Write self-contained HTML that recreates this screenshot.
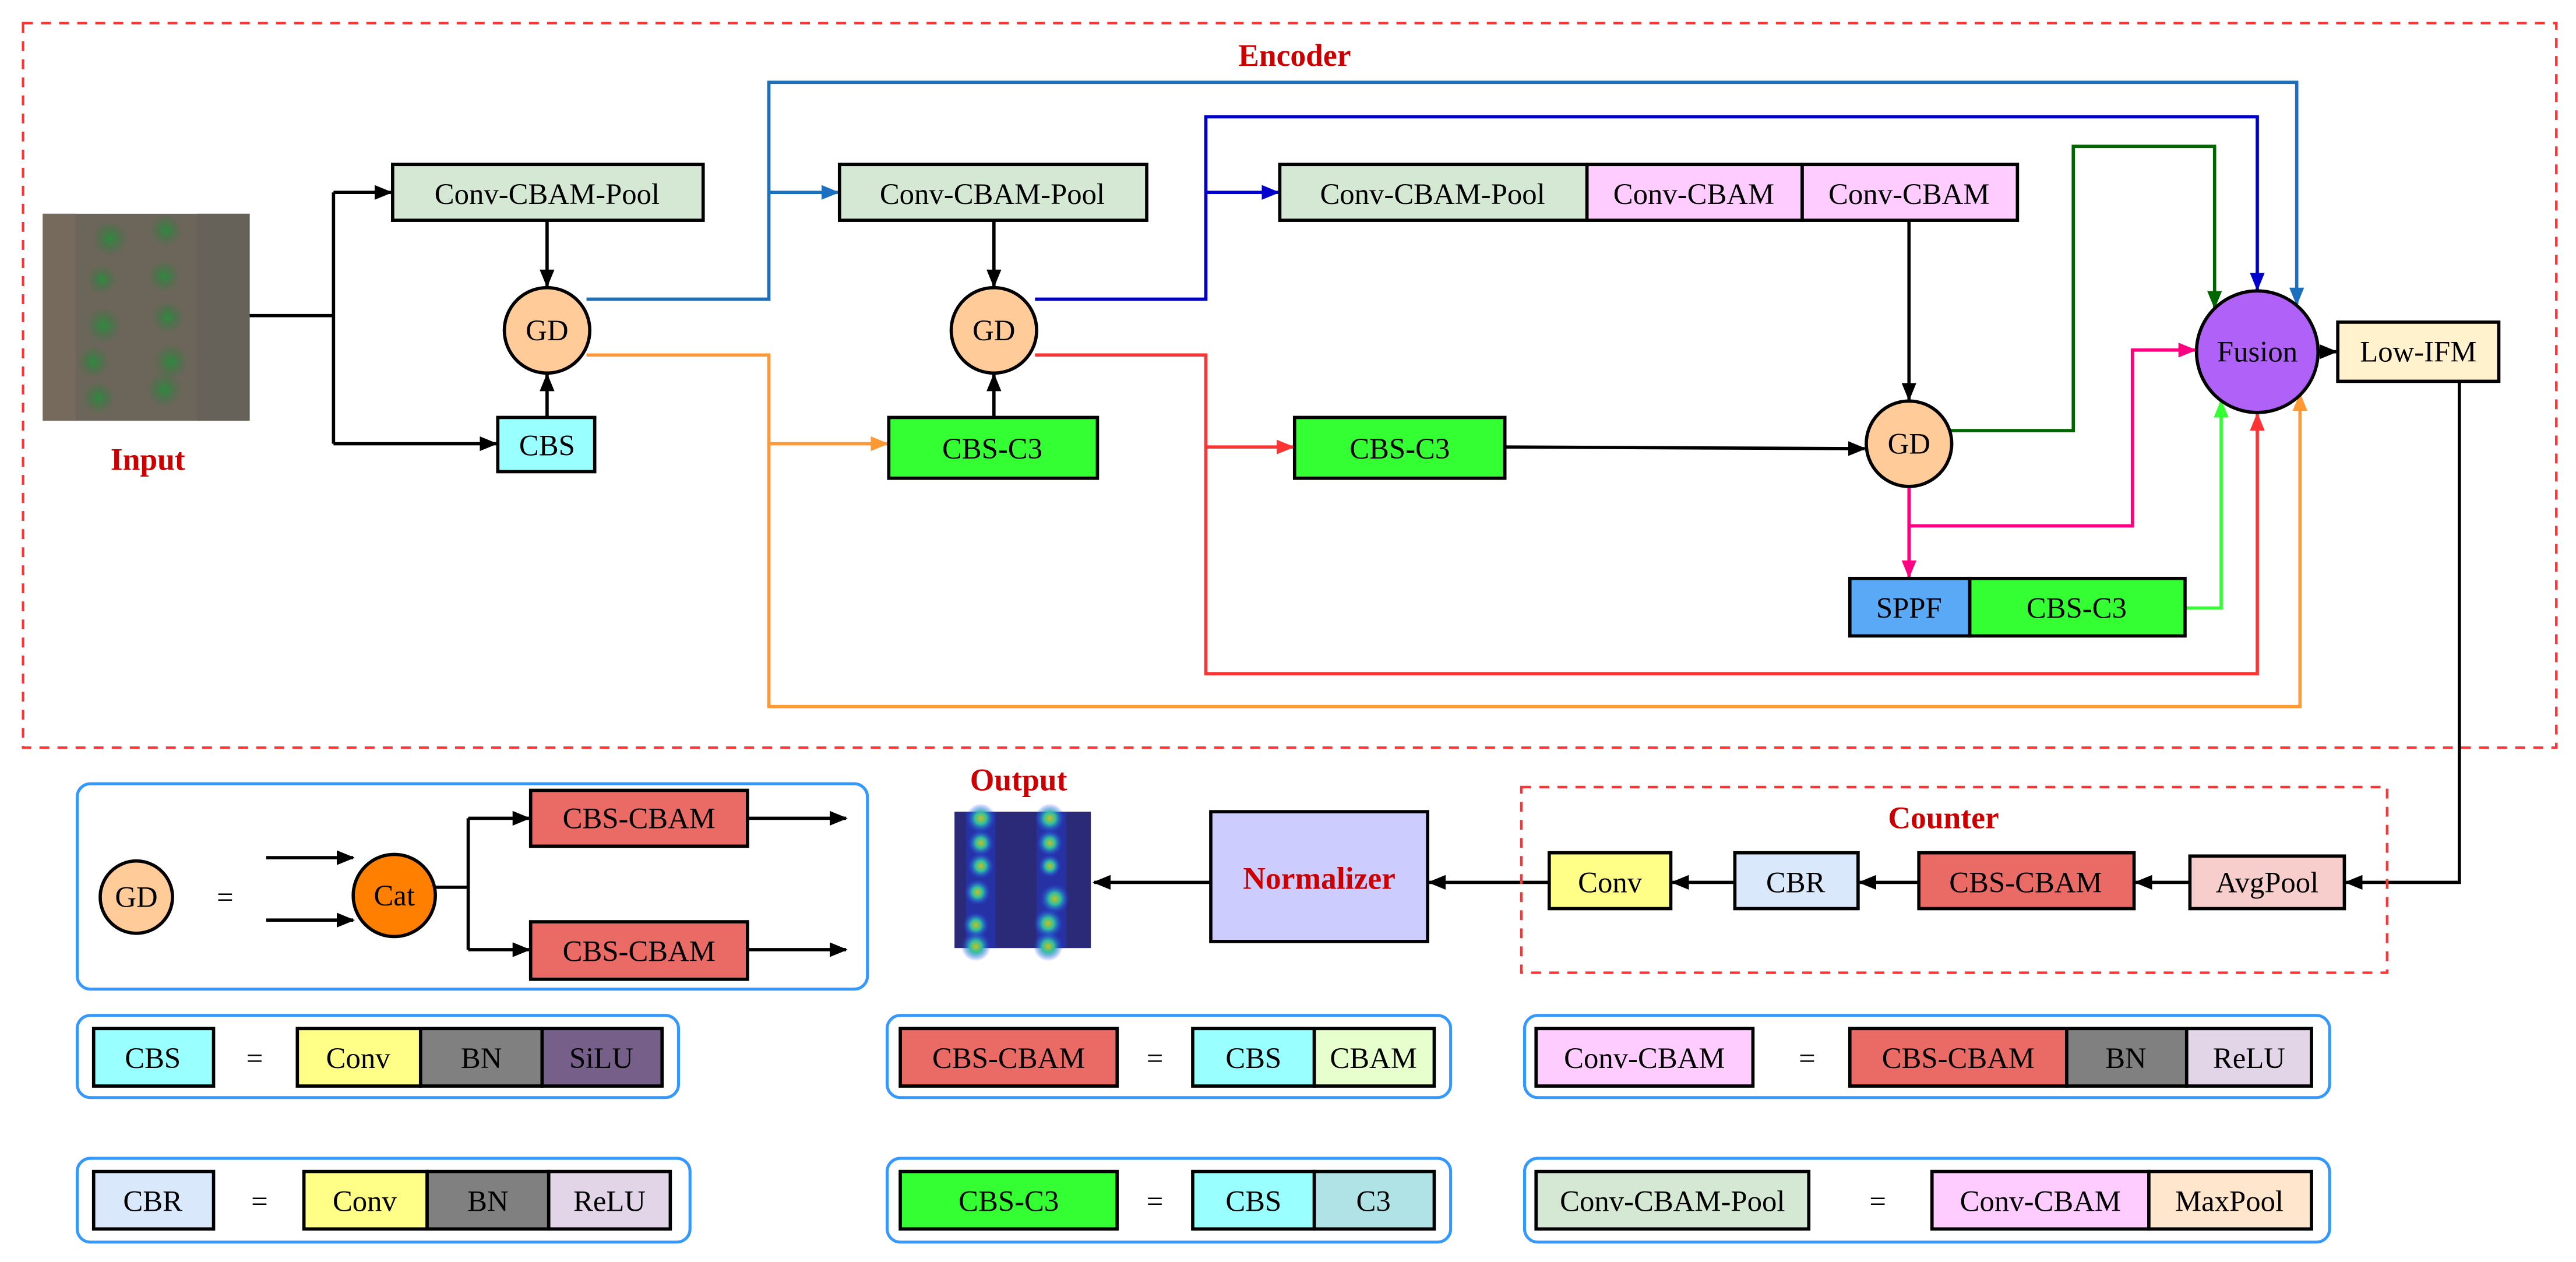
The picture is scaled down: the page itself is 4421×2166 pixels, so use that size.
<!DOCTYPE html>
<html><head><meta charset="utf-8"><style>
html,body{margin:0;padding:0;background:#fff;}
svg{display:block;}
</style></head><body>
<svg width="4421" height="2166" viewBox="0 0 1568 768" xmlns="http://www.w3.org/2000/svg" font-family="'Liberation Serif', 'Times New Roman', serif" font-size="18">
<defs>
<marker id="k" markerWidth="11" markerHeight="9" refX="10" refY="4.5" orient="auto" markerUnits="userSpaceOnUse"><path d="M0,0 L11,4.5 L0,9 Z" fill="#000"/></marker>
<marker id="b" markerWidth="11" markerHeight="9" refX="10" refY="4.5" orient="auto" markerUnits="userSpaceOnUse"><path d="M0,0 L11,4.5 L0,9 Z" fill="#1a6fbf"/></marker>
<marker id="db" markerWidth="11" markerHeight="9" refX="10" refY="4.5" orient="auto" markerUnits="userSpaceOnUse"><path d="M0,0 L11,4.5 L0,9 Z" fill="#0000cc"/></marker>
<marker id="o" markerWidth="11" markerHeight="9" refX="10" refY="4.5" orient="auto" markerUnits="userSpaceOnUse"><path d="M0,0 L11,4.5 L0,9 Z" fill="#ff9933"/></marker>
<marker id="r" markerWidth="11" markerHeight="9" refX="10" refY="4.5" orient="auto" markerUnits="userSpaceOnUse"><path d="M0,0 L11,4.5 L0,9 Z" fill="#ff3333"/></marker>
<marker id="g" markerWidth="11" markerHeight="9" refX="10" refY="4.5" orient="auto" markerUnits="userSpaceOnUse"><path d="M0,0 L11,4.5 L0,9 Z" fill="#006600"/></marker>
<marker id="p" markerWidth="11" markerHeight="9" refX="10" refY="4.5" orient="auto" markerUnits="userSpaceOnUse"><path d="M0,0 L11,4.5 L0,9 Z" fill="#ff0080"/></marker>
<marker id="lg" markerWidth="11" markerHeight="9" refX="10" refY="4.5" orient="auto" markerUnits="userSpaceOnUse"><path d="M0,0 L11,4.5 L0,9 Z" fill="#33ff33"/></marker>
<radialGradient id="dot"><stop offset="0" stop-color="#c8c020"/><stop offset="0.4" stop-color="#30c0a0"/><stop offset="1" stop-color="#2040ff" stop-opacity="0"/></radialGradient>
<radialGradient id="pl"><stop offset="0" stop-color="#2f8a40"/><stop offset="1" stop-color="#3a7040" stop-opacity="0"/></radialGradient>
</defs>

<rect x="14" y="14" width="1542" height="441" fill="none" stroke="#ff3333" stroke-width="1.5" stroke-dasharray="6,5"/>
<text x="788" y="40" text-anchor="middle" font-weight="bold" fill="#cc0000" font-size="19">Encoder</text>

<rect x="26" y="130" width="126" height="126" fill="#6c665a"/>
<rect x="26" y="130" width="20" height="126" fill="#756a5c"/>
<rect x="120" y="130" width="32" height="126" fill="#66625a"/>
<g fill="url(#pl)">
<circle cx="67" cy="145" r="11"/><circle cx="63" cy="198" r="11"/><circle cx="62" cy="170" r="9"/><circle cx="57" cy="220" r="10"/><circle cx="60" cy="242" r="10"/>
<circle cx="101" cy="140" r="10"/><circle cx="100" cy="168" r="10"/><circle cx="102" cy="193" r="10"/><circle cx="104" cy="220" r="11"/><circle cx="100" cy="237" r="11"/>
</g>
<text x="90" y="286" text-anchor="middle" font-weight="bold" fill="#cc0000" font-size="19">Input</text>

<g stroke-width="2" fill="none">
<path d="M152,192 H203 M203,117 V270" stroke="#000"/>
<path d="M203,117 H238" stroke="#000" marker-end="url(#k)"/>
<path d="M203,270 H302" stroke="#000" marker-end="url(#k)"/>
<path d="M333,134 V174" stroke="#000" marker-end="url(#k)"/>
<path d="M333,254 V228" stroke="#000" marker-end="url(#k)"/>
<path d="M357,182 H468 V50 H1398 V185" stroke="#1a6fbf" marker-end="url(#b)"/>
<path d="M468,117 H510" stroke="#1a6fbf" marker-end="url(#b)"/>
<path d="M357,216 H468 V430 H1400 V240" stroke="#ff9933" marker-end="url(#o)"/>
<path d="M468,270 H540" stroke="#ff9933" marker-end="url(#o)"/>
<path d="M605,134 V174" stroke="#000" marker-end="url(#k)"/>
<path d="M605,254 V228" stroke="#000" marker-end="url(#k)"/>
<path d="M630,182 H734 V71 H1374 V176" stroke="#0000cc" marker-end="url(#db)"/>
<path d="M734,117 H778" stroke="#0000cc" marker-end="url(#db)"/>
<path d="M630,216 H734 V410 H1374 V252" stroke="#ff3333" marker-end="url(#r)"/>
<path d="M734,272 H787" stroke="#ff3333" marker-end="url(#r)"/>
<path d="M1162,134 V243" stroke="#000" marker-end="url(#k)"/>
<path d="M916,272 L1135,273" stroke="#000" marker-end="url(#k)"/>
<path d="M1187,262 H1262 V89 H1348 V187" stroke="#006600" marker-end="url(#g)"/>
<path d="M1162,296 V351" stroke="#ff0080" marker-end="url(#p)"/>
<path d="M1162,320 H1298 V213 H1336" stroke="#ff0080" marker-end="url(#p)"/>
<path d="M1330,370 H1352 V244" stroke="#33ff33" marker-end="url(#lg)"/>
<path d="M1411,214 H1422" stroke="#000" marker-end="url(#k)"/>
<path d="M1497,232 V537 H1428" stroke="#000" marker-end="url(#k)"/>
<path d="M1333,537 H1300" stroke="#000" marker-end="url(#k)"/>
<path d="M1168,537 H1132" stroke="#000" marker-end="url(#k)"/>
<path d="M1056,537 H1018" stroke="#000" marker-end="url(#k)"/>
<path d="M943,537 H870" stroke="#000" marker-end="url(#k)"/>
<path d="M737,537 H666" stroke="#000" marker-end="url(#k)"/>
<path d="M162,522 H215" stroke="#000" marker-end="url(#k)"/>
<path d="M162,560 H215" stroke="#000" marker-end="url(#k)"/>
<path d="M265,540 H285 M285,498 V578" stroke="#000"/>
<path d="M285,498 H322" stroke="#000" marker-end="url(#k)"/>
<path d="M285,578 H322" stroke="#000" marker-end="url(#k)"/>
<path d="M455,498 H515" stroke="#000" marker-end="url(#k)"/>
<path d="M455,578 H515" stroke="#000" marker-end="url(#k)"/>
</g>

<g stroke="#000" stroke-width="2">
<rect x="239" y="100" width="189" height="34" fill="#d5e8d4"/>
<rect x="303" y="254" width="59" height="33" fill="#99ffff"/>
<circle cx="333" cy="201" r="26" fill="#ffcc99"/>
<rect x="511" y="100" width="187" height="34" fill="#d5e8d4"/>
<rect x="541" y="254" width="127" height="37" fill="#33ff33"/>
<circle cx="605" cy="201" r="26" fill="#ffcc99"/>
<rect x="779" y="100" width="187" height="34" fill="#d5e8d4"/>
<rect x="966" y="100" width="131" height="34" fill="#ffccff"/>
<rect x="1097" y="100" width="131" height="34" fill="#ffccff"/>
<rect x="788" y="254" width="128" height="37" fill="#33ff33"/>
<circle cx="1162" cy="270" r="26" fill="#ffcc99"/>
<rect x="1126" y="352" width="73" height="35" fill="#5aa9f7"/>
<rect x="1199" y="352" width="131" height="35" fill="#33ff33"/>
<circle cx="1374" cy="214" r="37" fill="#b061f8"/>
<rect x="1423" y="196" width="98" height="36" fill="#fff2cc"/>
<rect x="1333" y="521" width="94" height="32" fill="#f8cecc"/>
<rect x="1168" y="519" width="131" height="34" fill="#ea6b66"/>
<rect x="1056" y="519" width="75" height="34" fill="#dae8fc"/>
<rect x="943" y="519" width="74" height="34" fill="#ffff88"/>
<rect x="737" y="494" width="132" height="79" fill="#ccccff"/>
<circle cx="83" cy="546" r="22" fill="#ffcc99"/>
<circle cx="240" cy="545" r="25" fill="#ff8000"/>
<rect x="323" y="481" width="132" height="34" fill="#ea6b66"/>
<rect x="323" y="561" width="132" height="35" fill="#ea6b66"/>
<rect x="57" y="626" width="73" height="35" fill="#99ffff"/>
<rect x="181" y="626" width="75" height="35" fill="#ffff88"/>
<rect x="256" y="626" width="74" height="35" fill="#808080"/>
<rect x="330" y="626" width="73" height="35" fill="#76608a"/>
<rect x="57" y="713" width="73" height="35" fill="#dae8fc"/>
<rect x="185" y="713" width="75" height="35" fill="#ffff88"/>
<rect x="260" y="713" width="74" height="35" fill="#808080"/>
<rect x="334" y="713" width="74" height="35" fill="#e1d5e7"/>
<rect x="548" y="626" width="132" height="35" fill="#ea6b66"/>
<rect x="726" y="626" width="74" height="35" fill="#99ffff"/>
<rect x="800" y="626" width="73" height="35" fill="#e6ffcc"/>
<rect x="548" y="713" width="132" height="35" fill="#33ff33"/>
<rect x="726" y="713" width="74" height="35" fill="#99ffff"/>
<rect x="800" y="713" width="73" height="35" fill="#b0e3e6"/>
<rect x="935" y="626" width="132" height="35" fill="#ffccff"/>
<rect x="1126" y="626" width="132" height="35" fill="#ea6b66"/>
<rect x="1258" y="626" width="73" height="35" fill="#808080"/>
<rect x="1331" y="626" width="76" height="35" fill="#e1d5e7"/>
<rect x="935" y="713" width="166" height="35" fill="#d5e8d4"/>
<rect x="1176" y="713" width="132" height="35" fill="#ffccff"/>
<rect x="1308" y="713" width="99" height="35" fill="#ffe6cc"/>
</g>

<rect x="926" y="479" width="527" height="113" fill="none" stroke="#ff3333" stroke-width="1.5" stroke-dasharray="6,5"/>
<text x="1183" y="504" text-anchor="middle" font-weight="bold" fill="#cc0000" font-size="19">Counter</text>
<text x="803" y="541" text-anchor="middle" font-weight="bold" fill="#cc0000" font-size="19">Normalizer</text>
<text x="620" y="481" text-anchor="middle" font-weight="bold" fill="#cc0000" font-size="19">Output</text>

<rect x="581" y="494" width="83" height="83" fill="#2a2a78"/>
<rect x="588" y="494" width="18" height="83" fill="#2438c0" opacity="0.6"/>
<rect x="631" y="494" width="18" height="83" fill="#2438c0" opacity="0.6"/>
<g fill="url(#dot)">
<circle cx="597" cy="498" r="9"/><circle cx="597" cy="513" r="8"/><circle cx="597" cy="527" r="8"/><circle cx="595" cy="543" r="8"/><circle cx="594" cy="563" r="8"/><circle cx="594" cy="576" r="9"/>
<circle cx="639" cy="498" r="9"/><circle cx="639" cy="513" r="8"/><circle cx="639" cy="527" r="7"/><circle cx="642" cy="547" r="9"/><circle cx="638" cy="562" r="9"/><circle cx="638" cy="576" r="9"/>
</g>

<g fill="none" stroke="#3399ff" stroke-width="1.8">
<rect x="47" y="477" width="481" height="125" rx="8"/>
<rect x="47" y="618" width="366" height="50" rx="8"/>
<rect x="47" y="705" width="373" height="51" rx="8"/>
<rect x="540" y="618" width="343" height="50" rx="8"/>
<rect x="540" y="705" width="343" height="51" rx="8"/>
<rect x="928" y="618" width="490" height="50" rx="8"/>
<rect x="928" y="705" width="490" height="51" rx="8"/>
</g>

<g text-anchor="middle" fill="#000">
<text x="333" y="124">Conv-CBAM-Pool</text>
<text x="333" y="277">CBS</text>
<text x="333" y="207">GD</text>
<text x="604" y="124">Conv-CBAM-Pool</text>
<text x="604" y="279">CBS-C3</text>
<text x="605" y="207">GD</text>
<text x="872" y="124">Conv-CBAM-Pool</text>
<text x="1031" y="124">Conv-CBAM</text>
<text x="1162" y="124">Conv-CBAM</text>
<text x="852" y="279">CBS-C3</text>
<text x="1162" y="276">GD</text>
<text x="1162" y="376">SPPF</text>
<text x="1264" y="376">CBS-C3</text>
<text x="1374" y="220">Fusion</text>
<text x="1472" y="220">Low-IFM</text>
<text x="1380" y="543">AvgPool</text>
<text x="1233" y="543">CBS-CBAM</text>
<text x="1093" y="543">CBR</text>
<text x="980" y="543">Conv</text>
<text x="83" y="552">GD</text>
<text x="137" y="552">=</text>
<text x="240" y="551">Cat</text>
<text x="389" y="504">CBS-CBAM</text>
<text x="389" y="585">CBS-CBAM</text>
<text x="93" y="650">CBS</text><text x="155" y="650">=</text><text x="218" y="650">Conv</text><text x="293" y="650">BN</text><text x="366" y="650">SiLU</text>
<text x="93" y="737">CBR</text><text x="158" y="737">=</text><text x="222" y="737">Conv</text><text x="297" y="737">BN</text><text x="371" y="737">ReLU</text>
<text x="614" y="650">CBS-CBAM</text><text x="703" y="650">=</text><text x="763" y="650">CBS</text><text x="836" y="650">CBAM</text>
<text x="614" y="737">CBS-C3</text><text x="703" y="737">=</text><text x="763" y="737">CBS</text><text x="836" y="737">C3</text>
<text x="1001" y="650">Conv-CBAM</text><text x="1100" y="650">=</text><text x="1192" y="650">CBS-CBAM</text><text x="1294" y="650">BN</text><text x="1369" y="650">ReLU</text>
<text x="1018" y="737">Conv-CBAM-Pool</text><text x="1143" y="737">=</text><text x="1242" y="737">Conv-CBAM</text><text x="1357" y="737">MaxPool</text>
</g>
</svg>
</body></html>
